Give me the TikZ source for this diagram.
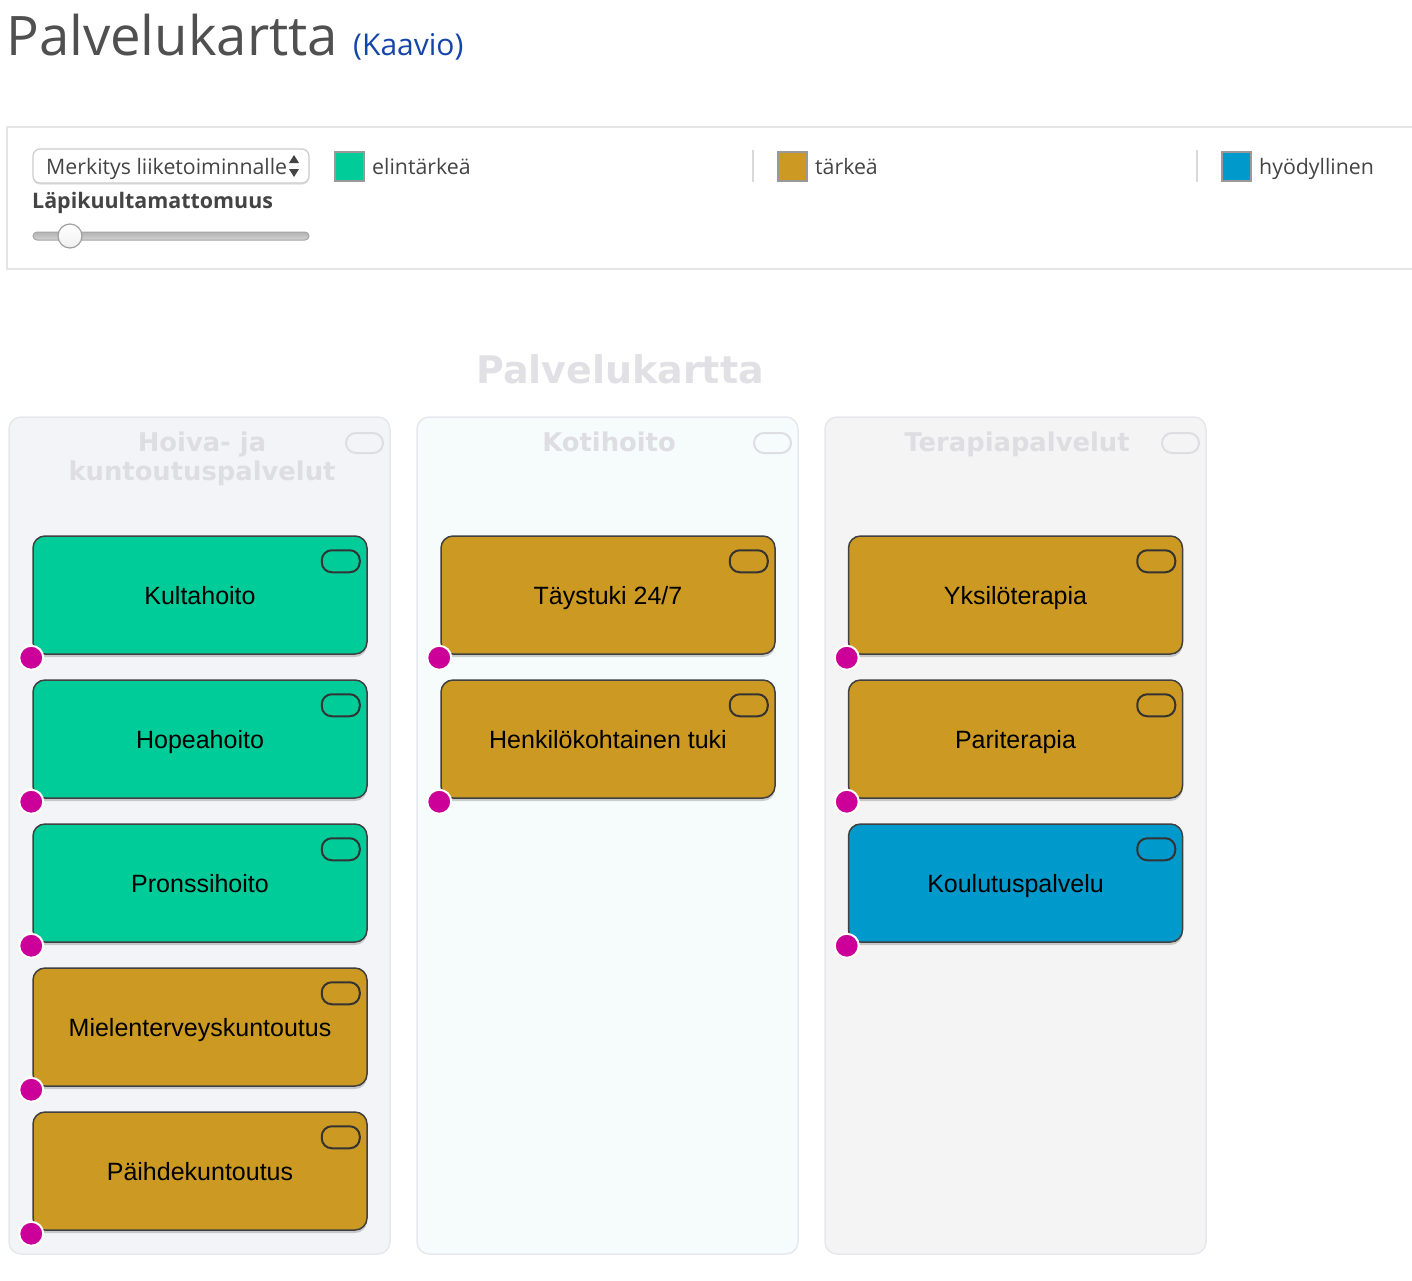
\documentclass[tikz,border=0pt]{standalone}
\usepackage{fontspec}
\setmainfont{Liberation Sans}
\newfontfamily\osans{Open Sans}
\newfontfamily\dejav{DejaVu Sans}
\usetikzlibrary{shadows,calc}
\definecolor{cgreen}{RGB}{0,204,153}
\definecolor{cgold}{RGB}{204,153,34}
\definecolor{cblue}{RGB}{0,153,204}
\definecolor{cmag}{RGB}{204,0,153}
\definecolor{colA}{RGB}{243,244,248}
\definecolor{colB}{RGB}{246,251,252}
\definecolor{colC}{RGB}{244,244,244}
\definecolor{colborder}{RGB}{230,232,238}
\definecolor{faint}{RGB}{222,222,226}
\definecolor{titlegray}{RGB}{80,80,80}
\definecolor{uitext}{RGB}{68,68,68}
\definecolor{linkblue}{RGB}{20,70,170}
\tikzset{
  colbox/.style={draw=colborder, line width=1.5pt, rounded corners=12pt, minimum width=381pt, minimum height=837pt, inner sep=0pt},
  coltitle/.style={font=\dejav\bfseries\fontsize{25.8}{29}\selectfont, text=faint, align=center, anchor=base, inner sep=0pt},
  colpill/.style={draw=faint, line width=2pt, rounded corners=10pt, minimum width=37pt, minimum height=20pt, inner sep=0pt},
  svc/.style={draw=black!75, line width=1.5pt, rounded corners=12pt, minimum width=334pt, minimum height=118pt, inner sep=0pt,
    font=\fontsize{25}{30}\selectfont, text=black, text height=18pt, text depth=0pt,
    drop shadow={shadow xshift=0pt, shadow yshift=-3pt, opacity=0.18, fill=black}},
  svcpill/.style={draw=black!80, line width=2pt, rounded corners=10pt, minimum width=38pt, minimum height=22pt, inner sep=0pt},
  dotm/.style={circle, fill=cmag, draw=white, line width=2pt, minimum size=24pt, inner sep=0pt},
  swatch/.style={draw=gray!80, line width=2pt, minimum width=29pt, minimum height=29pt, inner sep=0pt},
  legtext/.style={font=\osans\fontsize{21.3}{26}\selectfont, text=uitext, anchor=base west, inner sep=0pt},
  sepline/.style={draw=gray!30, line width=1.5pt}
}
\newcommand\mkservice[5]{%
  \node[svc, fill=#4] (#1) at (#2,#3) {#5};
  \node[svcpill] (#1-p) at ([xshift=-27pt,yshift=-26pt]#1.north east) {};
  \node[dotm] (#1-d) at ([xshift=-1pt,yshift=-3pt]#1.south west) {};
}
\begin{document}
\begin{tikzpicture}[x=1pt,y=-1pt]
\useasboundingbox (0,0) rectangle (1412,1280);
\fill[white] (0,0) rectangle (1412,1280);
\begin{scope}
\clip (0,0) rectangle (1412,1280);
% heading
\node[anchor=base west, inner sep=0pt, font=\osans\fontsize{54.5}{60}\selectfont, text=titlegray] (title) at (6,55) {Palvelukartta};
\node[anchor=base west, inner sep=0pt, font=\osans\fontsize{30}{32}\selectfont, text=linkblue] (kaavio) at (353,55) {(Kaavio)};
% panel
\draw[draw=gray!20, line width=2pt] (7,127) rectangle (1440,269);
\node[draw=gray!40, line width=1.2pt, rounded corners=7pt, minimum width=276pt, minimum height=34pt, inner sep=0pt,
  drop shadow={shadow xshift=0pt, shadow yshift=-1.5pt, opacity=0.12, fill=black}, fill=white] (dropdown) at (171,166) {};
\node[legtext] (droptext) at (46,174) {Merkitys liiketoiminnalle};
\fill[uitext] (289,163) -- (299,163) -- (294,155) -- cycle;
\fill[uitext] (289,169) -- (299,169) -- (294,177) -- cycle;
\node[anchor=base west, inner sep=0pt, font=\osans\bfseries\fontsize{21.4}{25}\selectfont, text=uitext] (opac) at (32,208) {Läpikuultamattomuus};
\node[draw=gray!70, line width=1pt, rounded corners=4pt, minimum width=276pt, minimum height=8pt, inner sep=0pt,
  top color=gray!60, bottom color=gray!35] (track) at (171,236) {};
\node[circle, draw=gray!75, line width=1.2pt, minimum size=24pt, inner sep=0pt, top color=white, bottom color=gray!12] (knob) at (70,236) {};
% legend
\node[swatch, fill=cgreen] (sw1) at (349.5,166) {};
\node[legtext] (lg1) at (372,174) {elintärkeä};
\draw[sepline] (753,150) -- (753,182);
\node[swatch, fill=cgold] (sw2) at (792.5,166) {};
\node[legtext] (lg2) at (815,174) {tärkeä};
\draw[sepline] (1197,150) -- (1197,182);
\node[swatch, fill=cblue] (sw3) at (1236.5,166) {};
\node[legtext] (lg3) at (1259,174) {hyödyllinen};
% diagram title
\node[font=\dejav\bfseries\fontsize{38}{44}\selectfont, text=faint!90, inner sep=0pt, anchor=base] (dtitle) at (620,383) {Palvelukartta};
% columns
\node[colbox, fill=colA] (col1) at (199.5,835.5) {};
\node[colbox, fill=colB] (col2) at (607.5,835.5) {};
\node[colbox, fill=colC] (col3) at (1015.5,835.5) {};
\node[coltitle] (col1-t) at (202,451) {Hoiva- ja};
\node[coltitle] (col1-t2) at (202,480) {kuntoutuspalvelut};
\node[coltitle] (col2-t) at (609,451) {Kotihoito};
\node[coltitle] (col3-t) at (1017,451) {Terapiapalvelut};
\node[colpill] (col1-p) at (364.5,443) {};
\node[colpill] (col2-p) at (772.5,443) {};
\node[colpill] (col3-p) at (1180.5,443) {};
% services
\mkservice{kulta}{200}{595}{cgreen}{Kultahoito}
\mkservice{hopea}{200}{739}{cgreen}{Hopeahoito}
\mkservice{pronssi}{200}{883}{cgreen}{Pronssihoito}
\mkservice{mielen}{200}{1027}{cgold}{Mielenterveyskuntoutus}
\mkservice{paihde}{200}{1171}{cgold}{Päihdekuntoutus}
\mkservice{taysi}{608}{595}{cgold}{Täystuki 24/7}
\mkservice{henk}{608}{739}{cgold}{Henkilökohtainen tuki}
\mkservice{yksilo}{1015.5}{595}{cgold}{Yksilöterapia}
\mkservice{pari}{1015.5}{739}{cgold}{Pariterapia}
\mkservice{koulu}{1015.5}{883}{cblue}{Koulutuspalvelu}
\end{scope}
\end{tikzpicture}
\end{document}
